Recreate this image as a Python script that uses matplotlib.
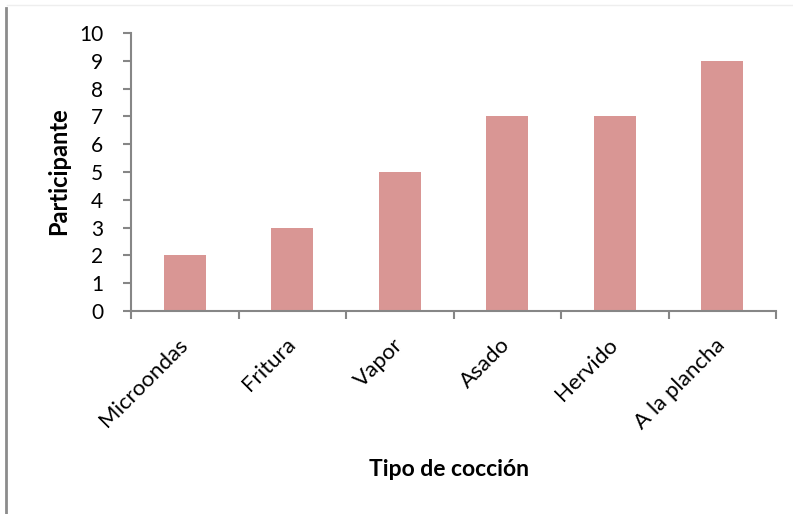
import matplotlib
matplotlib.use("Agg")
import matplotlib.pyplot as plt
from matplotlib.lines import Line2D

categorias = ["Microondas", "Fritura", "Vapor", "Asado", "Hervido", "A la plancha"]
participantes = [2, 3, 5, 7, 7, 9]
y_ticks = list(range(0, 11))

plt.rcParams["font.family"] = ["Lato", "DejaVu Sans"]

fig = plt.figure(figsize=(7.93, 5.14), dpi=100)
ax = fig.add_axes([131 / 793, 1 - 311 / 514, (776 - 131) / 793, (311 - 33) / 514])

x = list(range(len(categorias)))
ax.bar(x, participantes, width=0.39, color="#D99694", zorder=2)

ax.set_xlim(-0.5, len(categorias) - 0.5)
ax.set_ylim(0, 10)
ax.set_yticks(y_ticks)
ax.set_yticklabels([str(v) for v in y_ticks], fontsize=15)

# category boundary ticks on the x axis
ax.set_xticks([i - 0.5 for i in range(len(categorias) + 1)])
ax.set_xticklabels([])
ax.set_xticks(x, minor=True)
ax.set_xticklabels(categorias, minor=True, rotation=45, ha="right", va="center",
                   rotation_mode="anchor", fontsize=16)
ax.tick_params(axis="x", which="minor", length=0, pad=22)
ax.tick_params(axis="x", which="major", length=6, width=1.5, color="#868686", direction="out")
ax.tick_params(axis="y", length=6, width=1.5, color="#868686", direction="out", pad=14)

for side in ["top", "right"]:
    ax.spines[side].set_visible(False)
for side in ["left", "bottom"]:
    ax.spines[side].set_color("#868686")
    ax.spines[side].set_linewidth(1.5)

ax.set_ylabel("Participante", fontsize=17, fontweight="bold", va="center")
ax.yaxis.set_label_coords((59 - 131) / 645, (311 - 171.5) / 278)
fig.text(449 / 793, 1 - 470 / 514, "Tipo de cocción", fontsize=16.5, fontweight="bold",
         ha="center", va="center")

# outer frame remnants
fig.add_artist(Line2D([6 / 793, 6 / 793], [0, 1 - 8 / 514], transform=fig.transFigure,
                      color="#8C8C8C", linewidth=2))
fig.add_artist(Line2D([7 / 793, 1], [1 - 5 / 514, 1 - 5 / 514], transform=fig.transFigure,
                      color="#EEEEEE", linewidth=1))

fig.savefig("out.png", dpi=100)
